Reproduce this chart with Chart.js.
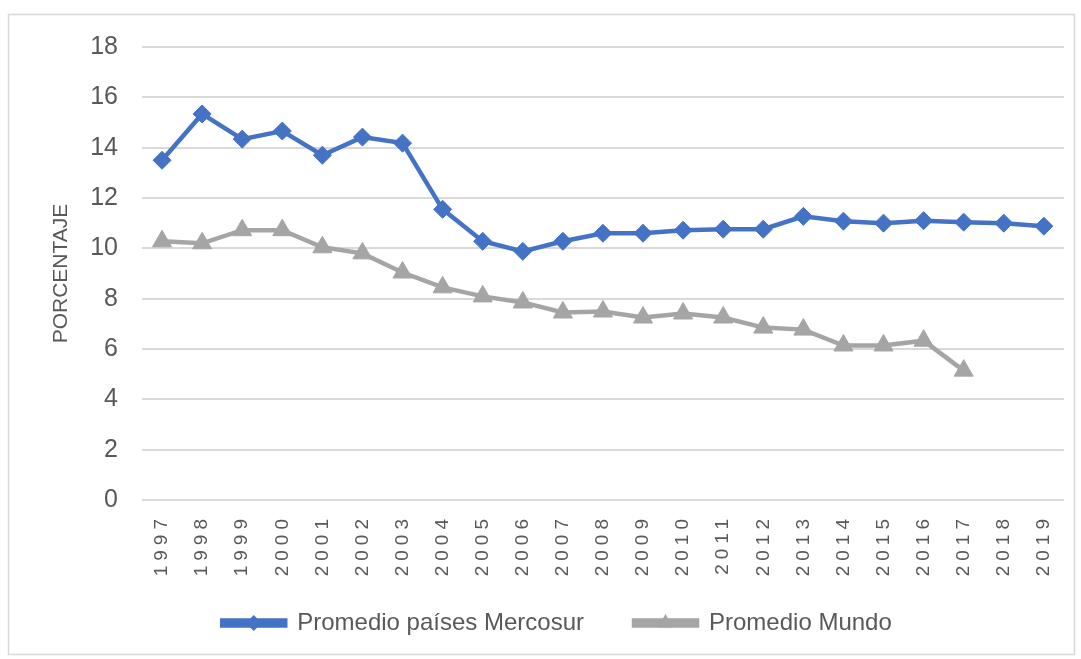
<!DOCTYPE html>
<html>
<head>
<meta charset="utf-8">
<script src="https://cdn.jsdelivr.net/npm/chart.js@4/dist/chart.umd.min.js"></script>
<style>
  html, body { margin: 0; padding: 0; background: #ffffff; }
  canvas { display: block; }
</style>
</head>
<body>
<canvas id="c" width="1081" height="659"></canvas>
<script>
const years = ['1997','1998','1999','2000','2001','2002','2003','2004','2005','2006','2007','2008','2009','2010','2011','2012','2013','2014','2015','2016','2017','2018','2019'];
const mercosur = [13.5,15.34,14.34,14.66,13.7,14.42,14.18,11.55,10.28,9.88,10.28,10.6,10.6,10.72,10.76,10.76,11.27,11.08,11.0,11.1,11.04,11.0,10.88];
const mundo = [10.28,10.2,10.72,10.72,10.04,9.8,9.04,8.45,8.09,7.85,7.45,7.49,7.25,7.41,7.25,6.85,6.77,6.14,6.14,6.33,5.14,null,null];
const yTicks = [0,2,4,6,8,10,12,14,16,18];
const seriesNames = ['Promedio países Mercosur','Promedio Mundo'];
const axisTitle = 'PORCENTAJE';

const BLUE = '#4472C4';
const GRAY = '#A5A5A5';
const TEXT = '#595959';
const FONT = "'Liberation Sans', Arial, sans-serif";
const X_SPACING = '5px';

const frame = {
  id: 'frame',
  beforeDraw(chart) {
    const ctx = chart.ctx;
    ctx.save();
    ctx.fillStyle = '#ffffff';
    ctx.fillRect(0, 0, chart.width, chart.height);
    ctx.strokeStyle = '#d9d9d9';
    ctx.lineWidth = 1.5;
    ctx.strokeRect(8.5, 14.5, 1066, 640);
    ctx.restore();
    const s = chart.scales.x;
    if (s && !s._spaced) {
      const orig = s.drawLabels;
      s._computeLabelArea = function() { return undefined; };
      s.drawLabels = function(area) {
        const c = this.ctx;
        c.save();
        c.letterSpacing = X_SPACING;
        orig.call(this, area);
        c.restore();
      };
      s._spaced = true;
    }
  }
};

const legendMarkers = {
  id: 'legendMarkers',
  afterDraw(chart) {
    const lg = chart.legend;
    if (!lg || !lg.legendHitBoxes) return;
    const ctx = chart.ctx;
    const bw = chart.options.plugins.legend.labels.boxWidth;
    const styles = ['diamond', 'triangle'];
    const cols = [BLUE, GRAY];
    lg.legendHitBoxes.forEach((hb, i) => {
      const cx = hb.left + bw / 2;
      const cy = hb.top + hb.height / 2;
      ctx.save();
      ctx.fillStyle = cols[i];
      ctx.beginPath();
      if (styles[i] === 'diamond') {
        const r = 8;
        ctx.moveTo(cx - r, cy); ctx.lineTo(cx, cy - r); ctx.lineTo(cx + r, cy); ctx.lineTo(cx, cy + r);
      } else {
        const r = 9;
        ctx.moveTo(cx, cy - r); ctx.lineTo(cx + r * 0.866, cy + r / 2); ctx.lineTo(cx - r * 0.866, cy + r / 2);
      }
      ctx.closePath();
      ctx.fill();
      ctx.restore();
    });
  }
};

new Chart(document.getElementById('c'), {
  type: 'line',
  data: {
    labels: years,
    datasets: [
      {
        label: seriesNames[0],
        data: mercosur,
        borderColor: BLUE,
        backgroundColor: BLUE,
        borderWidth: 4.5,
        pointStyle: 'rectRot',
        pointRadius: 9,
        pointBorderWidth: 1,
        pointBackgroundColor: BLUE,
        pointBorderColor: BLUE,
        tension: 0,
        fill: false
      },
      {
        label: seriesNames[1],
        data: mundo,
        borderColor: GRAY,
        backgroundColor: GRAY,
        borderWidth: 4.5,
        pointStyle: 'triangle',
        pointRadius: 11,
        pointBorderWidth: 1,
        pointBackgroundColor: GRAY,
        pointBorderColor: GRAY,
        tension: 0,
        fill: false,
        spanGaps: false
      }
    ]
  },
  options: {
    responsive: false,
    animation: false,
    devicePixelRatio: 1,
    layout: { padding: { left: 49, right: 16, top: 47, bottom: 14 } },
    plugins: {
      tooltip: { enabled: false },
      legend: {
        display: true,
        position: 'bottom',
        labels: {
          boxWidth: 63,
          boxHeight: 5,
          padding: 50,
          color: TEXT,
          font: { family: FONT, size: 24 }
        }
      }
    },
    scales: {
      x: {
        offset: true,
        grid: { display: false, drawTicks: false },
        border: { display: false },
        afterFit(scale) { scale.height = 61; },
        ticks: {
          color: TEXT,
          font: { family: FONT, size: 19 },
          maxRotation: 90,
          minRotation: 90,
          padding: 14,
          autoSkip: false
        }
      },
      y: {
        min: 0,
        max: 18,
        afterBuildTicks(scale) { scale.ticks = yTicks.map(v => ({ value: v })); },
        afterFit(scale) { scale.width = 93; },
        grid: { color: '#d9d9d9', lineWidth: 2, drawTicks: false },
        border: { display: false },
        ticks: {
          color: TEXT,
          font: { family: FONT, size: 25 },
          padding: 24
        },
        title: {
          display: true,
          text: axisTitle,
          color: TEXT,
          font: { family: FONT, size: 21 },
          padding: { top: 0, bottom: 6 }
        }
      }
    }
  },
  plugins: [frame, legendMarkers]
});
</script>
</body>
</html>
